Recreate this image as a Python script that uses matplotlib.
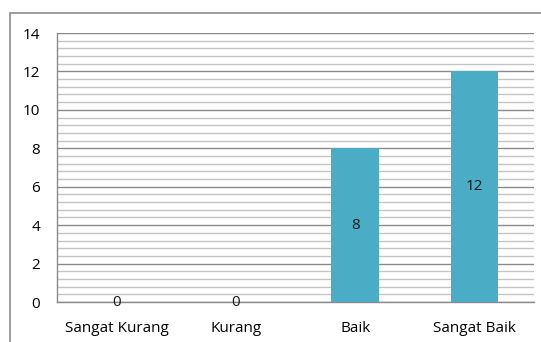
import matplotlib.pyplot as plt
from matplotlib.patches import Rectangle
from matplotlib.ticker import MultipleLocator

categories = ['Sangat Kurang', 'Kurang', 'Baik', 'Sangat Baik']
values = [0, 0, 8, 12]

plt.rcParams['font.family'] = ['Open Sans', 'DejaVu Sans']
plt.rcParams['font.size'] = 11

fig = plt.figure(figsize=(5.41, 3.42), dpi=100)
ax = fig.add_axes([57 / 541, 1 - 302 / 342, (534 - 57) / 541, (302 - 33) / 342])

# outer chart frame (cut off at the right and bottom)
fig.patches.append(Rectangle((10 / 541, -0.1), 1.2, 0.1 + 1 - 13 / 342,
                             transform=fig.transFigure, fill=False,
                             edgecolor='#8c8c8c', linewidth=1.2))

x = list(range(len(categories)))
bars = ax.bar(x, values, width=0.4, color='#4BACC6', zorder=3)

for xi, v in zip(x, values):
    ax.text(xi, v / 2, str(v), ha='center', va='center', fontsize=11,
            color='#1a1a1a', zorder=4)

ax.set_xlim(-0.5, len(categories) - 0.5)
ax.set_ylim(0, 14)
ax.yaxis.set_major_locator(MultipleLocator(2))
ax.yaxis.set_minor_locator(MultipleLocator(0.4))
ax.grid(which='major', axis='y', color='#8a8a8a', linewidth=1.0, zorder=1)
ax.grid(which='minor', axis='y', color='#c4c4c4', linewidth=1.0, zorder=1)

ax.set_xticks(x)
ax.set_xticklabels(categories)
ax.tick_params(axis='x', length=0, pad=14)
ax.tick_params(axis='y', which='both', length=0, pad=12)

for s in ['top', 'right']:
    ax.spines[s].set_visible(False)
for s in ['left', 'bottom']:
    ax.spines[s].set_color('#8a8a8a')
    ax.spines[s].set_linewidth(1.0)

fig.savefig('out.png', dpi=100)
